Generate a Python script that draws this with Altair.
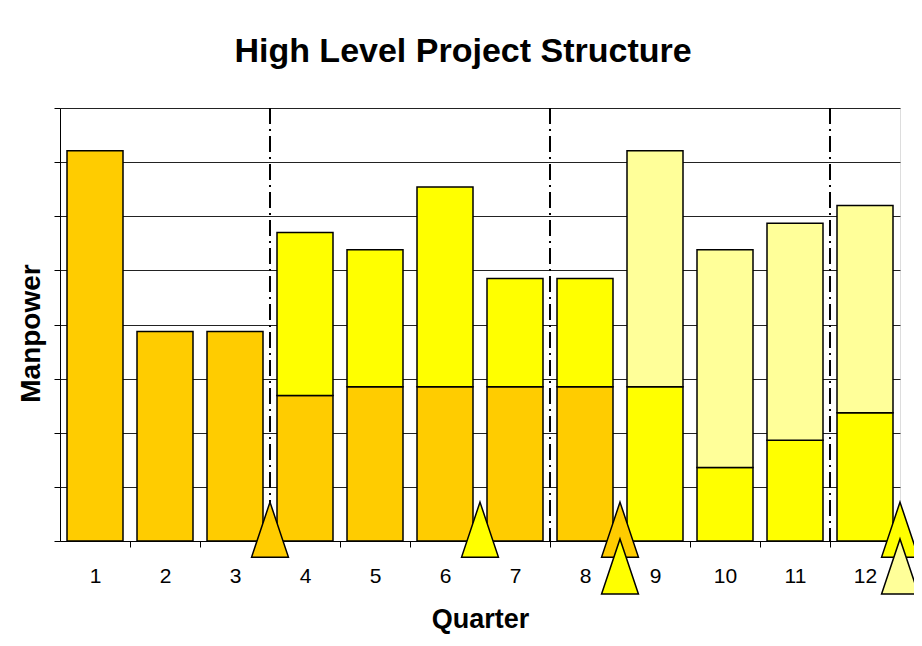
import altair as alt
import pandas as pd

# ---- data ----
quarters = list(range(1, 13))
phase1 = [7.21, 3.87, 3.87, 2.69, 2.85, 2.85, 2.85, 2.85, 0, 0, 0, 0]
phase2 = [0, 0, 0, 3.01, 2.53, 3.69, 2.00, 2.00, 2.85, 1.36, 1.86, 2.37]
phase3 = [0, 0, 0, 0, 0, 0, 0, 0, 4.36, 4.02, 4.01, 3.83]
phase_names = ["Phase 1", "Phase 2", "Phase 3"]
phase_colors = ["#FFCC00", "#FFFF00", "#FFFF99"]

gate_after_quarter = [3.5, 7.5, 11.5]

milestone_pos = [3.5, 6.5, 8.5, 8.5, 12.5, 12.5]
milestone_phase = ["Phase 1", "Phase 2", "Phase 1", "Phase 2", "Phase 2", "Phase 3"]
milestone_row = [0, 0, 0, 1, 0, 1]

# ---- tables ----
rows = []
for i, q in enumerate(quarters):
    base = 0.0
    for name, series in zip(phase_names, [phase1, phase2, phase3]):
        v = series[i]
        if v > 0:
            rows.append({"quarter": q, "phase": name, "y0": base, "y1": base + v})
            base += v
seg = pd.DataFrame(rows)
gates = pd.DataFrame({"pos": gate_after_quarter})
ms = pd.DataFrame({"pos": milestone_pos, "phase": milestone_phase, "row": milestone_row})

W, H = 840, 433
FONT = "Liberation Sans"

xscale = alt.Scale(domain=[0.5, 12.5], nice=False, zero=False)
yscale = alt.Scale(domain=[0, 8], nice=False, zero=True)
cscale = alt.Scale(domain=phase_names, range=phase_colors)

xaxis = alt.Axis(
    values=quarters, format="d", grid=False, tickSize=6, tickColor="#000000",
    tickOffset=35, labelOffset=-35, labelFontSize=21, labelFont=FONT,
    labelColor="#000000", labelPadding=18, domainColor="#000000",
    titleFont=FONT, titleFontSize=27, titleFontWeight="bold",
    titleColor="#000000", titlePadding=20,
)
yaxis = alt.Axis(
    values=list(range(0, 9)), labels=False, grid=True, gridColor="#222222",
    gridWidth=1, tickSize=6, tickColor="#000000", domainColor="#000000",
    titleFont=FONT, titleFontSize=28, titleFontWeight="bold",
    titleColor="#000000", titlePadding=8, titleY=225,
)

bars = alt.Chart(seg).transform_calculate(
    xa="datum.quarter - 0.4", xb="datum.quarter + 0.4"
).mark_rect(stroke="#000000", strokeWidth=1.5).encode(
    x=alt.X("xa:Q", scale=xscale, axis=xaxis, title="Quarter"),
    x2="xb:Q",
    y=alt.Y("y0:Q", scale=yscale, axis=yaxis, title="Manpower"),
    y2="y1:Q",
    color=alt.Color("phase:N", scale=cscale, legend=None),
)

gate_lines = alt.Chart(gates).mark_rule(
    color="#000000", strokeWidth=2, strokeDash=[16, 5, 2, 5]
).encode(x=alt.X("pos:Q", scale=xscale))

tri = "M0,-1L0.67,1L-0.67,1Z"
milestones = alt.Chart(ms).transform_calculate(
    lev="datum.row == 0 ? 0.21 : -0.47"
).mark_point(
    shape=tri, size=3025, filled=True, stroke="#000000", strokeWidth=1.5, opacity=1
).encode(
    x=alt.X("pos:Q", scale=xscale),
    y=alt.Y("lev:Q", scale=yscale),
    fill=alt.Fill("phase:N", scale=cscale, legend=None),
    order=alt.Order("row:Q"),
)

chart = alt.layer(bars, gate_lines, milestones).properties(
    width=W, height=H,
    title=alt.TitleParams(
        "High Level Project Structure", font=FONT, fontSize=34,
        fontWeight="bold", color="#000000", offset=38, dx=-17, anchor="middle",
    ),
    autosize=alt.AutoSizeParams(type="none"),
    padding={"left": 52, "top": 100, "right": 14, "bottom": 97},
).configure_view(stroke="#808080", strokeWidth=1).configure(background="#ffffff")

chart.save("out.html", embed_options={"renderer": "svg", "actions": False})
